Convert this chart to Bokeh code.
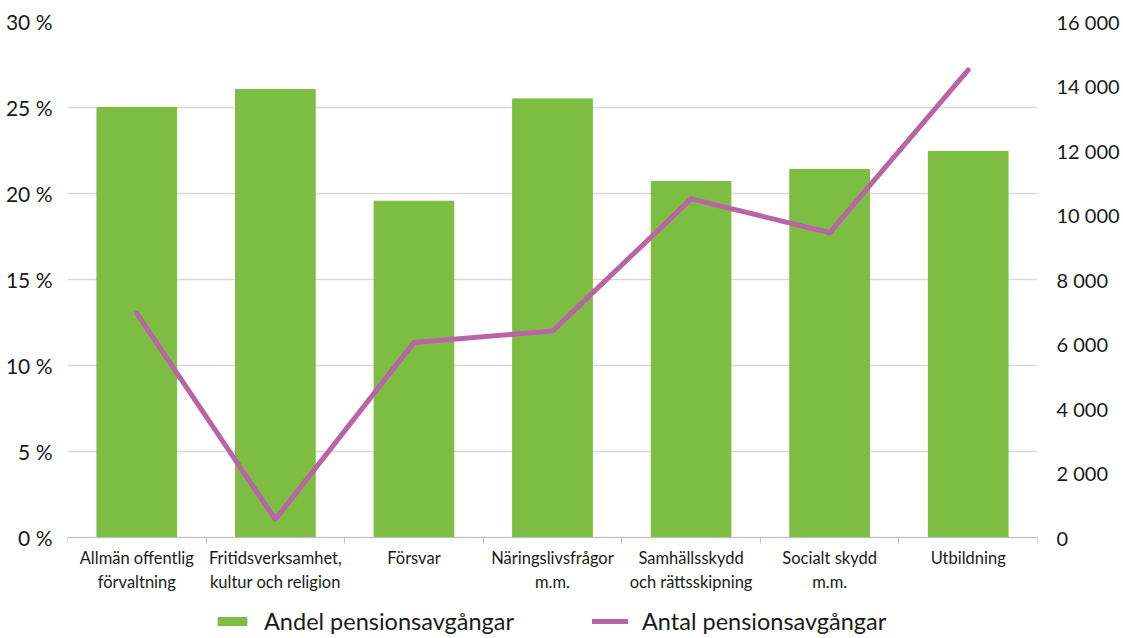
from bokeh.plotting import figure
from bokeh.models import (Range1d, LinearAxis, FixedTicker, Legend, LegendItem,
                          ColumnDataSource)
from bokeh.embed import file_html
from bokeh.resources import INLINE

categories = ["Allmän offentlig\nförvaltning", "Fritidsverksamhet,\nkultur och religion",
              "Försvar", "Näringslivsfrågor\nm.m.", "Samhällsskydd\noch rättsskipning",
              "Socialt skydd\nm.m.", "Utbildning"]
andel = [25.0, 26.05, 19.55, 25.5, 20.7, 21.4, 22.45]
antal = [6950, 560, 6050, 6400, 10500, 9450, 14500]
left_ticks = [0, 5, 10, 15, 20, 25, 30]
right_ticks = [0, 2000, 4000, 6000, 8000, 10000, 12000, 14000, 16000]

FONT = "Lato"
GREEN = "#7dbd42"
PURPLE = "#b964a7"

# pixel layout: value area is 516 px tall, plus 98 px below zero for labels/legend
AREA = 516.0
BELOW = 98.0
lmax, rmax = left_ticks[-1], right_ticks[-1]

xpos = [i + 0.5 for i in range(len(categories))]
src = ColumnDataSource(dict(x=xpos, andel=andel, antal=antal))

p = figure(frame_width=970, frame_height=int(AREA + BELOW), output_backend="svg",
           toolbar_location=None, x_axis_location=None, y_axis_location=None,
           x_range=Range1d(0, len(categories)),
           y_range=Range1d(-BELOW * lmax / AREA, lmax),
           min_border_left=67, min_border_right=70, min_border_top=21,
           min_border_bottom=0, outline_line_color=None)
p.extra_y_ranges = {"antal": Range1d(-BELOW * rmax / AREA, rmax)}

bars = p.vbar(x="x", top="andel", width=0.575, source=src, fill_color=GREEN,
              line_color=GREEN, line_width=1)
line = p.line(x="x", y="antal", source=src, y_range_name="antal", line_color=PURPLE,
              line_width=5, line_cap="round", line_join="round")

# x axis, fixed at zero
xa = LinearAxis(fixed_location=0,
                ticker=FixedTicker(ticks=xpos, minor_ticks=list(range(len(categories) + 1))))
xa.major_label_overrides = {x: c for x, c in zip(xpos, categories)}
xa.major_tick_line_color = None
xa.minor_tick_line_color = "#bfbfbf"
xa.minor_tick_out = 6
xa.minor_tick_in = 0
xa.axis_line_color = "#bfbfbf"
xa.major_label_text_font = FONT
xa.major_label_text_font_size = "16.5px"
xa.major_label_text_color = "#1a1a1a"
xa.major_label_standoff = 4
p.add_layout(xa, "below")

# left axis
ya = LinearAxis(ticker=FixedTicker(ticks=left_ticks))
ya.major_label_overrides = {t: f"{t} %" for t in left_ticks}
ya.axis_line_color = None
ya.major_tick_line_color = None
ya.minor_tick_line_color = None
ya.major_label_text_font = FONT
ya.major_label_text_font_size = "21px"
ya.major_label_text_color = "#1a1a1a"
ya.major_label_standoff = 9
p.add_layout(ya, "left")

# right axis
ra = LinearAxis(y_range_name="antal", ticker=FixedTicker(ticks=right_ticks))
ra.major_label_overrides = {t: f"{t:,}".replace(",", " ") for t in right_ticks}
ra.axis_line_color = None
ra.major_tick_line_color = None
ra.minor_tick_line_color = None
ra.major_label_text_font = FONT
ra.major_label_text_font_size = "20px"
ra.major_label_text_color = "#1a1a1a"
ra.major_label_standoff = 13
p.add_layout(ra, "right")

p.xgrid.grid_line_color = None
p.ygrid.ticker = FixedTicker(ticks=left_ticks)
p.ygrid.grid_line_color = "#d9d9d9"
p.ygrid.grid_line_width = 1.5

legend = Legend(items=[LegendItem(label="Andel pensionsavgångar", renderers=[bars]),
                       LegendItem(label="Antal pensionsavgångar", renderers=[line])],
                orientation="horizontal", location=(147, 0),
                label_text_font=FONT, label_text_font_size="23.5px",
                label_text_color="#1a1a1a", glyph_width=36, glyph_height=10,
                label_standoff=14, spacing=78, border_line_color=None,
                background_fill_alpha=0, padding=0, margin=0)
p.add_layout(legend)

open("out.html", "w").write(file_html(p, INLINE))
